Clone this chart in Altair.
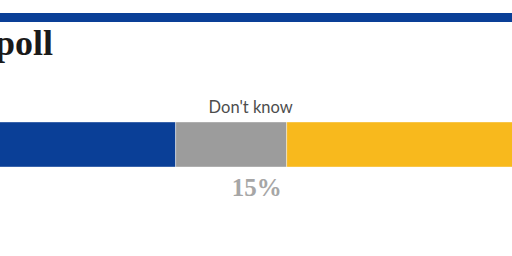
import altair as alt
import pandas as pd

# Data read from the (cropped) reference
categories = ["Support", "Don't know", "Oppose"]
values = [40, 15, 45]
colors = ["#0a3f97", "#9c9c9c", "#f8b91d"]
order = [0, 1, 2]

label_category = "Don't know"
label_value_text = "15%"
label_position = [50]
title_text = "poll"

bars = pd.DataFrame({"cat": categories, "value": values, "ord": order, "row": ["r"] * 3})
labels = pd.DataFrame({"pos": label_position, "row": ["r"], "name": [label_category], "pct": [label_value_text]})

xscale = alt.Scale(domain=[16.26, 85.45], nice=False, zero=False)
yscale = alt.Scale(domain=["r"], paddingInner=0, paddingOuter=0)

bar = alt.Chart(bars).mark_bar(clip=True, stroke="white", strokeWidth=0.4).encode(
    x=alt.X("value:Q", stack="zero", scale=xscale, axis=None),
    y=alt.Y("row:N", scale=yscale, axis=None),
    color=alt.Color("cat:N", scale=alt.Scale(domain=categories, range=colors), legend=None),
    order=alt.Order("ord:Q"),
)

name_lbl = alt.Chart(labels).mark_text(
    font="Lato", fontSize=16.5, color="#4d4d4d", baseline="alphabetic", dy=-32, dx=1
).encode(
    x=alt.X("pos:Q", scale=xscale, axis=None),
    y=alt.Y("row:N", scale=yscale, axis=None),
    text="name:N",
)

pct_lbl = alt.Chart(labels).mark_text(
    font="Liberation Serif", fontSize=25, fontWeight="bold", color="#a6a6a6",
    baseline="alphabetic", dy=51.5, dx=7
).encode(
    x=alt.X("pos:Q", scale=xscale, axis=None),
    y=alt.Y("row:N", scale=yscale, axis=None),
    text="pct:N",
)

top_band = alt.Chart(pd.DataFrame({"t": [1]})).mark_rule(color="#0a3f97", strokeWidth=9).encode(
    x=alt.value(0), x2=alt.value(512), y=alt.value(-104.5)
)

title = alt.Chart(pd.DataFrame({"t": [title_text]})).mark_text(
    font="Liberation Serif", fontSize=36, fontWeight="bold", color="#1a1a1a",
    align="right", baseline="alphabetic"
).encode(x=alt.value(53), y=alt.value(-67), text="t:N")

chart = alt.layer(top_band, title, bar, name_lbl, pct_lbl).properties(
    width=512, height=45,
    padding={"top": 122, "bottom": 89, "left": 0, "right": 0},
    autosize=alt.AutoSizeParams(type="none"),
).configure_view(stroke=None)

chart.save("out.html", embed_options={"renderer": "svg", "actions": False})
